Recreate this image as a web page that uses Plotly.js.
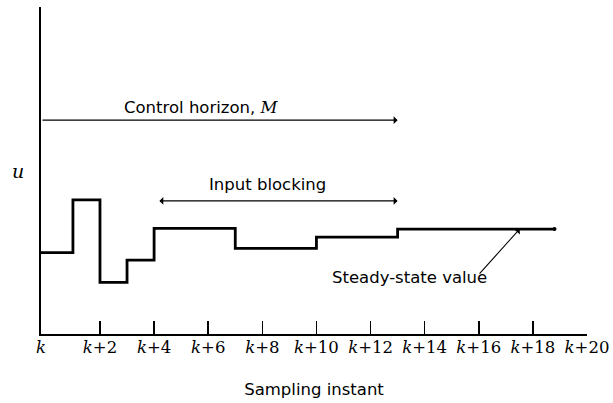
<!DOCTYPE html>
<html>
<head>
<meta charset="utf-8">
<script src="https://cdn.plot.ly/plotly-3.0.1.min.js"></script>
<style>html,body{margin:0;padding:0;background:#fff;}#chart{width:613px;height:403px;}</style>
</head>
<body>
<div id="chart"></div>
<script>
// Axis start (the vertical u axis sits slightly left of instant k)
var xStart = -0.18;
var xEnd = 20;

// Step input profile u (sampling instants relative to k)
var stepTimes  = [xStart, 1, 2, 3, 4, 7, 10, 13, 18.8];
var stepValues = [2.49, 4.10, 1.58, 2.26, 3.23, 2.62, 2.96, 3.21, 3.21];

// Tick positions and labels
var tickVals = [xStart, 2, 4, 6, 8, 10, 12, 14, 16, 18, 20];
var tickText = ["<i>k</i>", "<i>k</i>+2", "<i>k</i>+4", "<i>k</i>+6", "<i>k</i>+8", "<i>k</i>+10",
                "<i>k</i>+12", "<i>k</i>+14", "<i>k</i>+16", "<i>k</i>+18", "<i>k</i>+20"];

// Horizon arrows: [start, end] in sampling instants, and level
var controlHorizonX = [xStart, 13];
var controlHorizonY = 6.54;
var blockingX = [4.14, 13];
var blockingY = 4.07;
// Steady-state pointer: tail -> head
var steadyTail = [15.98, 1.80];
var steadyHead = [17.51, 3.21];

var sans = "DejaVu Sans, sans-serif";
var serif = "DejaVu Serif, serif";

var trace = {
  x: stepTimes, y: stepValues, type: "scatter", mode: "lines",
  line: {shape: "hv", color: "#000", width: 2.8},
  hoverinfo: "skip"
};
var endDot = {
  x: [stepTimes[stepTimes.length-1]], y: [stepValues[stepValues.length-1]],
  type: "scatter", mode: "markers", marker: {color: "#000", size: 4}, hoverinfo: "skip"
};

var layout = {
  width: 613, height: 403,
  margin: {l: 41, r: 26, t: 7, b: 69},
  paper_bgcolor: "#fff", plot_bgcolor: "#fff",
  showlegend: false,
  xaxis: {
    range: [xStart, xEnd], tickvals: tickVals, ticktext: tickText,
    ticks: "inside", ticklen: 13, tickwidth: 1.6, tickcolor: "#000",
    showline: true, linecolor: "#000", linewidth: 1.8,
    showgrid: false, zeroline: false, ticklabelstandoff: -3,
    tickfont: {family: serif, size: 16.5, color: "#000"},
    title: {text: "Sampling instant", font: {family: sans, size: 16.5, color: "#000"}, standoff: 28}
  },
  yaxis: {
    range: [0, 10], showticklabels: false, ticks: "",
    showline: true, linecolor: "#000", linewidth: 1.8,
    showgrid: false, zeroline: false
  },
  annotations: [
    {xref: "x", yref: "y", axref: "x", ayref: "y",
     x: controlHorizonX[1], y: controlHorizonY, ax: controlHorizonX[0], ay: controlHorizonY,
     showarrow: true, arrowhead: 1, arrowsize: 1.2, arrowwidth: 1.1, arrowcolor: "#000", standoff: 0, startstandoff: 0, text: ""},
    {xref: "x", yref: "y", axref: "x", ayref: "y",
     x: blockingX[1], y: blockingY, ax: blockingX[0], ay: blockingY,
     showarrow: true, arrowhead: 1, startarrowhead: 1, arrowside: "end+start",
     arrowsize: 1.2, startarrowsize: 1.2, arrowwidth: 1.1, arrowcolor: "#000", standoff: 0, startstandoff: 0, text: ""},
    {xref: "x", yref: "y", axref: "x", ayref: "y",
     x: steadyHead[0], y: steadyHead[1], ax: steadyTail[0], ay: steadyTail[1],
     showarrow: true, arrowhead: 1, arrowsize: 1.2, arrowwidth: 1.1, arrowcolor: "#000", standoff: 0, text: ""},
    {xref: "x", yref: "y", x: 5.76, y: 6.94, showarrow: false, xanchor: "center", yanchor: "middle",
     text: "Control horizon, <i style='font-family:DejaVu Serif'>M</i>", font: {family: sans, size: 16.5, color: "#000"}},
    {xref: "x", yref: "y", x: 8.19, y: 4.56, showarrow: false, xanchor: "center", yanchor: "middle",
     text: "Input blocking", font: {family: sans, size: 16.5, color: "#000"}},
    {xref: "x", yref: "y", x: 13.44, y: 1.74, showarrow: false, xanchor: "center", yanchor: "middle",
     text: "Steady-state value", font: {family: sans, size: 16.5, color: "#000"}},
    {xref: "paper", yref: "paper", x: -0.043, y: 0.50, showarrow: false, xanchor: "center", yanchor: "middle",
     text: "<i>u</i>", font: {family: serif, size: 19, color: "#000"}}
  ]
};

Plotly.newPlot("chart", [trace, endDot], layout, {displayModeBar: false, staticPlot: true});
</script>
</body>
</html>
